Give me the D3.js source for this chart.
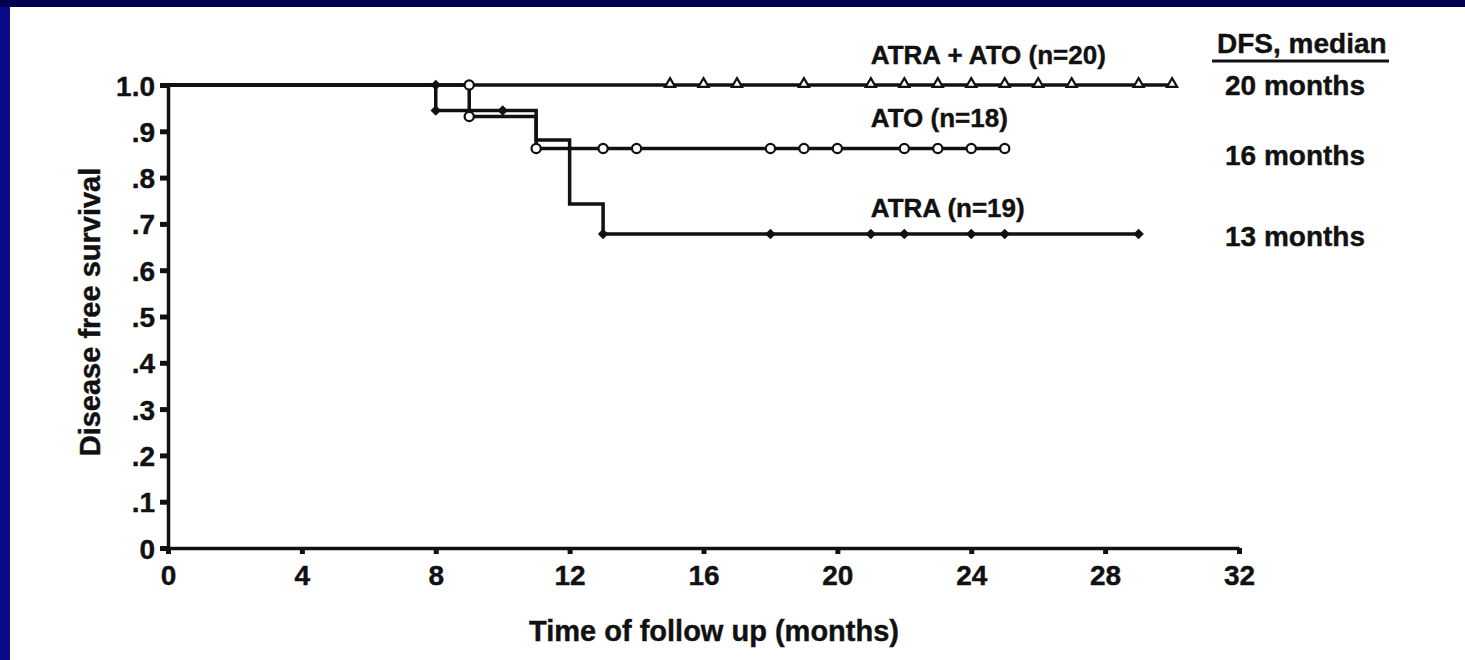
<!DOCTYPE html>
<html>
<head>
<meta charset="utf-8">
<script src="https://cdn.jsdelivr.net/npm/d3@7"></script>
<style>
  body { margin: 0; background: #ffffff; }
  svg text { font-family: "Liberation Sans", Arial, sans-serif; font-weight: bold; fill: #111; stroke: #111; stroke-width: 0.4px; }
</style>
</head>
<body>
<svg id="chart"></svg>
<script>
// Kaplan-Meier style curves
const combSteps = [[0, 1.0], [30, 1.0]];
const combMarks = [15, 16, 17, 19, 21, 22, 23, 24, 25, 26, 27, 29, 30];

const atoSteps = [[0, 1.0], [9, 0.932], [11, 0.863], [25, 0.863]];
const atoMarks = [[9, 1.0], [9, 0.932], [11, 0.863], [13, 0.863], [14, 0.863], [18, 0.863],
                  [19, 0.863], [20, 0.863], [22, 0.863], [23, 0.863], [24, 0.863], [25, 0.863]];

const atraSteps = [[0, 1.0], [8, 0.945], [11, 0.881], [12, 0.743], [13, 0.678], [29, 0.678]];
const atraMarks = [[8, 1.0], [8, 0.945], [10, 0.945], [13, 0.678], [18, 0.678], [21, 0.678],
                   [22, 0.678], [24, 0.678], [25, 0.678], [29, 0.678]];

const seriesLabels = ["ATRA + ATO (n=20)", "ATO (n=18)", "ATRA (n=19)"];
const labelLevels = [1.045, 0.91, 0.714];
const dfsTitle = "DFS, median";
const dfsLabels = ["20 months", "16 months", "13 months"];
const dfsLevels = [1.0, 0.85, 0.675];

const xTicks = [0, 4, 8, 12, 16, 20, 24, 28, 32];
const yTicks = [0, 0.1, 0.2, 0.3, 0.4, 0.5, 0.6, 0.7, 0.8, 0.9, 1.0];

const W = 1465, H = 660;

const svg = d3.select("#chart")
    .attr("width", W)
    .attr("height", H);

// slide frame
svg.append("rect").attr("x", 0).attr("y", 0).attr("width", W).attr("height", H).attr("fill", "#ffffff");
svg.append("rect").attr("x", 0).attr("y", 0).attr("width", 10).attr("height", H).attr("fill", "#0a0a8c");
svg.append("rect").attr("x", 0).attr("y", 0).attr("width", W).attr("height", 7).attr("fill", "#000050");

const x = d3.scaleLinear().domain([0, 32]).range([168, 1239]);
const y = d3.scaleLinear().domain([0, 1]).range([548, 85]);

// axes
const yAxis = svg.append("g")
    .attr("transform", `translate(${x(0)},0)`)
    .call(d3.axisLeft(y)
        .tickValues(yTicks)
        .tickSize(8)
        .tickSizeOuter(0)
        .tickPadding(5)
        .tickFormat(d => d === 0 ? "0" : d === 1 ? "1.0" : d3.format(".1f")(d).replace("0.", ".")));
yAxis.select(".domain").attr("stroke", "#111").attr("stroke-width", 3.5);
yAxis.selectAll(".tick line").attr("stroke", "#111").attr("stroke-width", 5);
yAxis.selectAll(".tick text").style("font-size", "28px").attr("dy", "0.36em");

const xAxis = svg.append("g")
    .attr("transform", `translate(0,${y(0)})`)
    .call(d3.axisBottom(x)
        .tickValues(xTicks)
        .tickSize(6)
        .tickSizeOuter(0)
        .tickPadding(11));
xAxis.select(".domain").attr("stroke", "#111").attr("stroke-width", 3.5);
xAxis.selectAll(".tick line").attr("stroke", "#111").attr("stroke-width", 5);
xAxis.selectAll(".tick text").style("font-size", "28px");

svg.append("text")
    .attr("x", 714)
    .attr("y", 641)
    .attr("text-anchor", "middle")
    .style("font-size", "29px")
    .text("Time of follow up (months)");

svg.append("text")
    .attr("transform", `translate(100,312) rotate(-90)`)
    .attr("text-anchor", "middle")
    .style("font-size", "29px")
    .text("Disease free survival");

// step lines
const line = d3.line()
    .x(d => x(d[0]))
    .y(d => y(d[1]))
    .curve(d3.curveStepAfter);

[combSteps, atoSteps, atraSteps].forEach(steps => {
    svg.append("path")
        .datum(steps)
        .attr("fill", "none")
        .attr("stroke", "#111")
        .attr("stroke-width", 3.5)
        .attr("d", line);
});

// markers
svg.selectAll(".tri")
    .data(combMarks)
    .join("path")
    .attr("class", "tri")
    .attr("transform", d => `translate(${x(d)},${y(1.0) - 1})`)
    .attr("d", d3.symbol(d3.symbolTriangle, 45))
    .attr("fill", "#fff")
    .attr("stroke", "#111")
    .attr("stroke-width", 2.2);

svg.selectAll(".circ")
    .data(atoMarks)
    .join("circle")
    .attr("class", "circ")
    .attr("cx", d => x(d[0]))
    .attr("cy", d => y(d[1]))
    .attr("r", 4.6)
    .attr("fill", "#fff")
    .attr("stroke", "#111")
    .attr("stroke-width", 2.2);

svg.selectAll(".dia")
    .data(atraMarks)
    .join("path")
    .attr("class", "dia")
    .attr("transform", d => `translate(${x(d[0])},${y(d[1])}) rotate(45)`)
    .attr("d", d3.symbol(d3.symbolSquare, 55))
    .attr("fill", "#111");

// series labels
svg.selectAll(".slabel")
    .data(seriesLabels)
    .join("text")
    .attr("class", "slabel")
    .attr("x", x(21))
    .attr("y", (d, i) => y(labelLevels[i]))
    .style("font-size", "26px")
    .text(d => d);

// DFS median column
svg.append("text")
    .attr("x", 1217)
    .attr("y", 53)
    .style("font-size", "28px")
    .text(dfsTitle);
svg.append("line")
    .attr("x1", 1212).attr("x2", 1389)
    .attr("y1", 61).attr("y2", 61)
    .attr("stroke", "#111")
    .attr("stroke-width", 3);

svg.selectAll(".dfs")
    .data(dfsLabels)
    .join("text")
    .attr("class", "dfs")
    .attr("x", 1225)
    .attr("y", (d, i) => y(dfsLevels[i]))
    .attr("dy", "0.36em")
    .style("font-size", "28px")
    .text(d => d);
</script>
</body>
</html>
